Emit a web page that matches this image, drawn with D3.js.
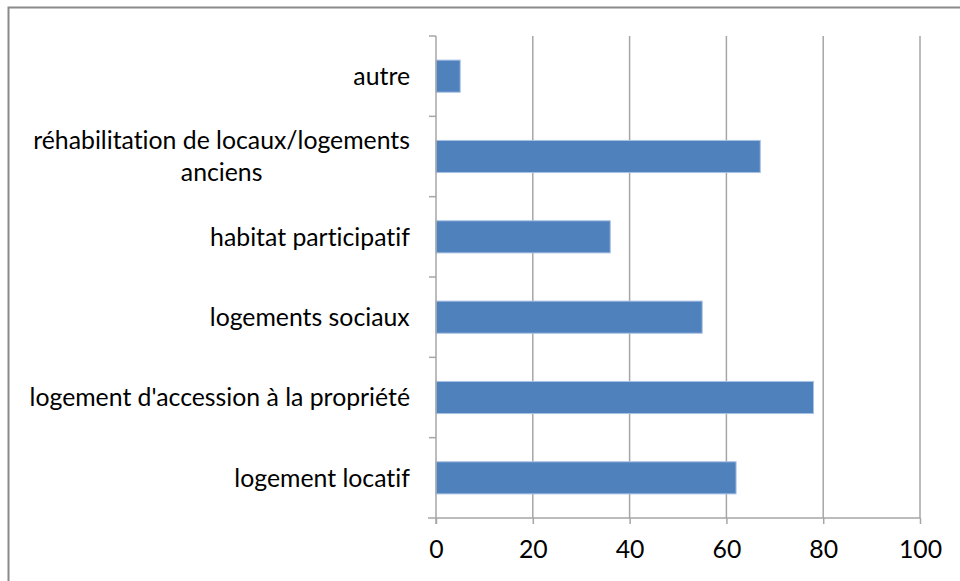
<!DOCTYPE html>
<html><head><meta charset="utf-8">
<script src="https://cdn.jsdelivr.net/npm/d3@7"></script>
<style>body{margin:0;background:#fff}svg{display:block}text{font-family:Lato,"Open Sans",sans-serif;fill:#000;font-variant-ligatures:none}</style>
</head><body><svg id="c" width="960" height="581"></svg>
<script>
const categories = ["autre", "réhabilitation de locaux/logements anciens", "habitat participatif", "logements sociaux", "logement d'accession à la propriété", "logement locatif"];
const labelLines = [["autre"], ["réhabilitation de locaux/logements", "anciens"], ["habitat participatif"], ["logements sociaux"], ["logement d'accession à la propriété"], ["logement locatif"]];
const values = [5, 67, 36, 55, 78, 62];
const xTicks = [0, 20, 40, 60, 80, 100];

(function () {
const svg = d3.select("#c");
const pL = 436, pR = 920, pT = 36, pB = 518;
const fs = 24.8;
svg.append("rect").attr("x", 8.5).attr("y", 7.5).attr("width", 1000).attr("height", 1000)
  .attr("fill", "none").attr("stroke", "#8a8a8a").attr("stroke-width", 2);

const x = d3.scaleLinear().domain([0, 100]).range([pL, pR]);
const y = d3.scaleBand().domain(categories).range([pT, pB]).paddingInner(0.6).paddingOuter(0.3);
const yb = d3.scaleBand().domain(categories).range([pT, pB]);

svg.append("g").selectAll("line").data(xTicks.slice(1)).join("line")
  .attr("x1", d => x(d)).attr("x2", d => x(d)).attr("y1", pT).attr("y2", pB)
  .attr("stroke", "#a6a6a6").attr("stroke-width", 1.5);

svg.append("g").selectAll("rect").data(values).join("rect")
  .attr("x", x(0)).attr("y", (d, i) => y(categories[i]))
  .attr("width", d => x(d) - x(0)).attr("height", y.bandwidth())
  .attr("fill", "#4f81bd").attr("stroke", "#a9c2e3").attr("stroke-width", 1);

const xa = svg.append("g").attr("transform", `translate(0,${pB})`)
  .call(d3.axisBottom(x).tickValues(xTicks).tickSize(6).tickPadding(16));
xa.select(".domain").remove();
xa.selectAll("line").attr("stroke", "#a6a6a6").attr("stroke-width", 1.5);
xa.selectAll("text").attr("font-size", fs).attr("font-family", "Lato, sans-serif").attr("fill", "#000");
svg.append("line").attr("x1", 428).attr("x2", pR).attr("y1", pB).attr("y2", pB)
  .attr("stroke", "#a6a6a6").attr("stroke-width", 1.5);

svg.append("line").attr("x1", pL).attr("x2", pL).attr("y1", pT).attr("y2", pB + 6)
  .attr("stroke", "#a6a6a6").attr("stroke-width", 1.5);
svg.append("g").selectAll("line").data(categories).join("line")
  .attr("x1", pL - 7).attr("x2", pL).attr("y1", d => yb(d)).attr("y2", d => yb(d))
  .attr("stroke", "#a6a6a6").attr("stroke-width", 1.5);

const lg = svg.append("g");
categories.forEach((c, i) => {
  const lines = labelLines[i];
  const cy = y(c) + y.bandwidth() / 2;
  const lh = 32;
  const t = lg.append("text").attr("font-size", fs).attr("text-anchor", "middle");
  lines.forEach((l, j) => {
    t.append("tspan").attr("x", 0).attr("y", cy + (j - (lines.length - 1) / 2) * lh).attr("dy", "0.35em").text(l);
  });
  const w = t.node().getBBox().width;
  t.attr("transform", `translate(${410 - w / 2},0)`);
});
})();
</script></body></html>
